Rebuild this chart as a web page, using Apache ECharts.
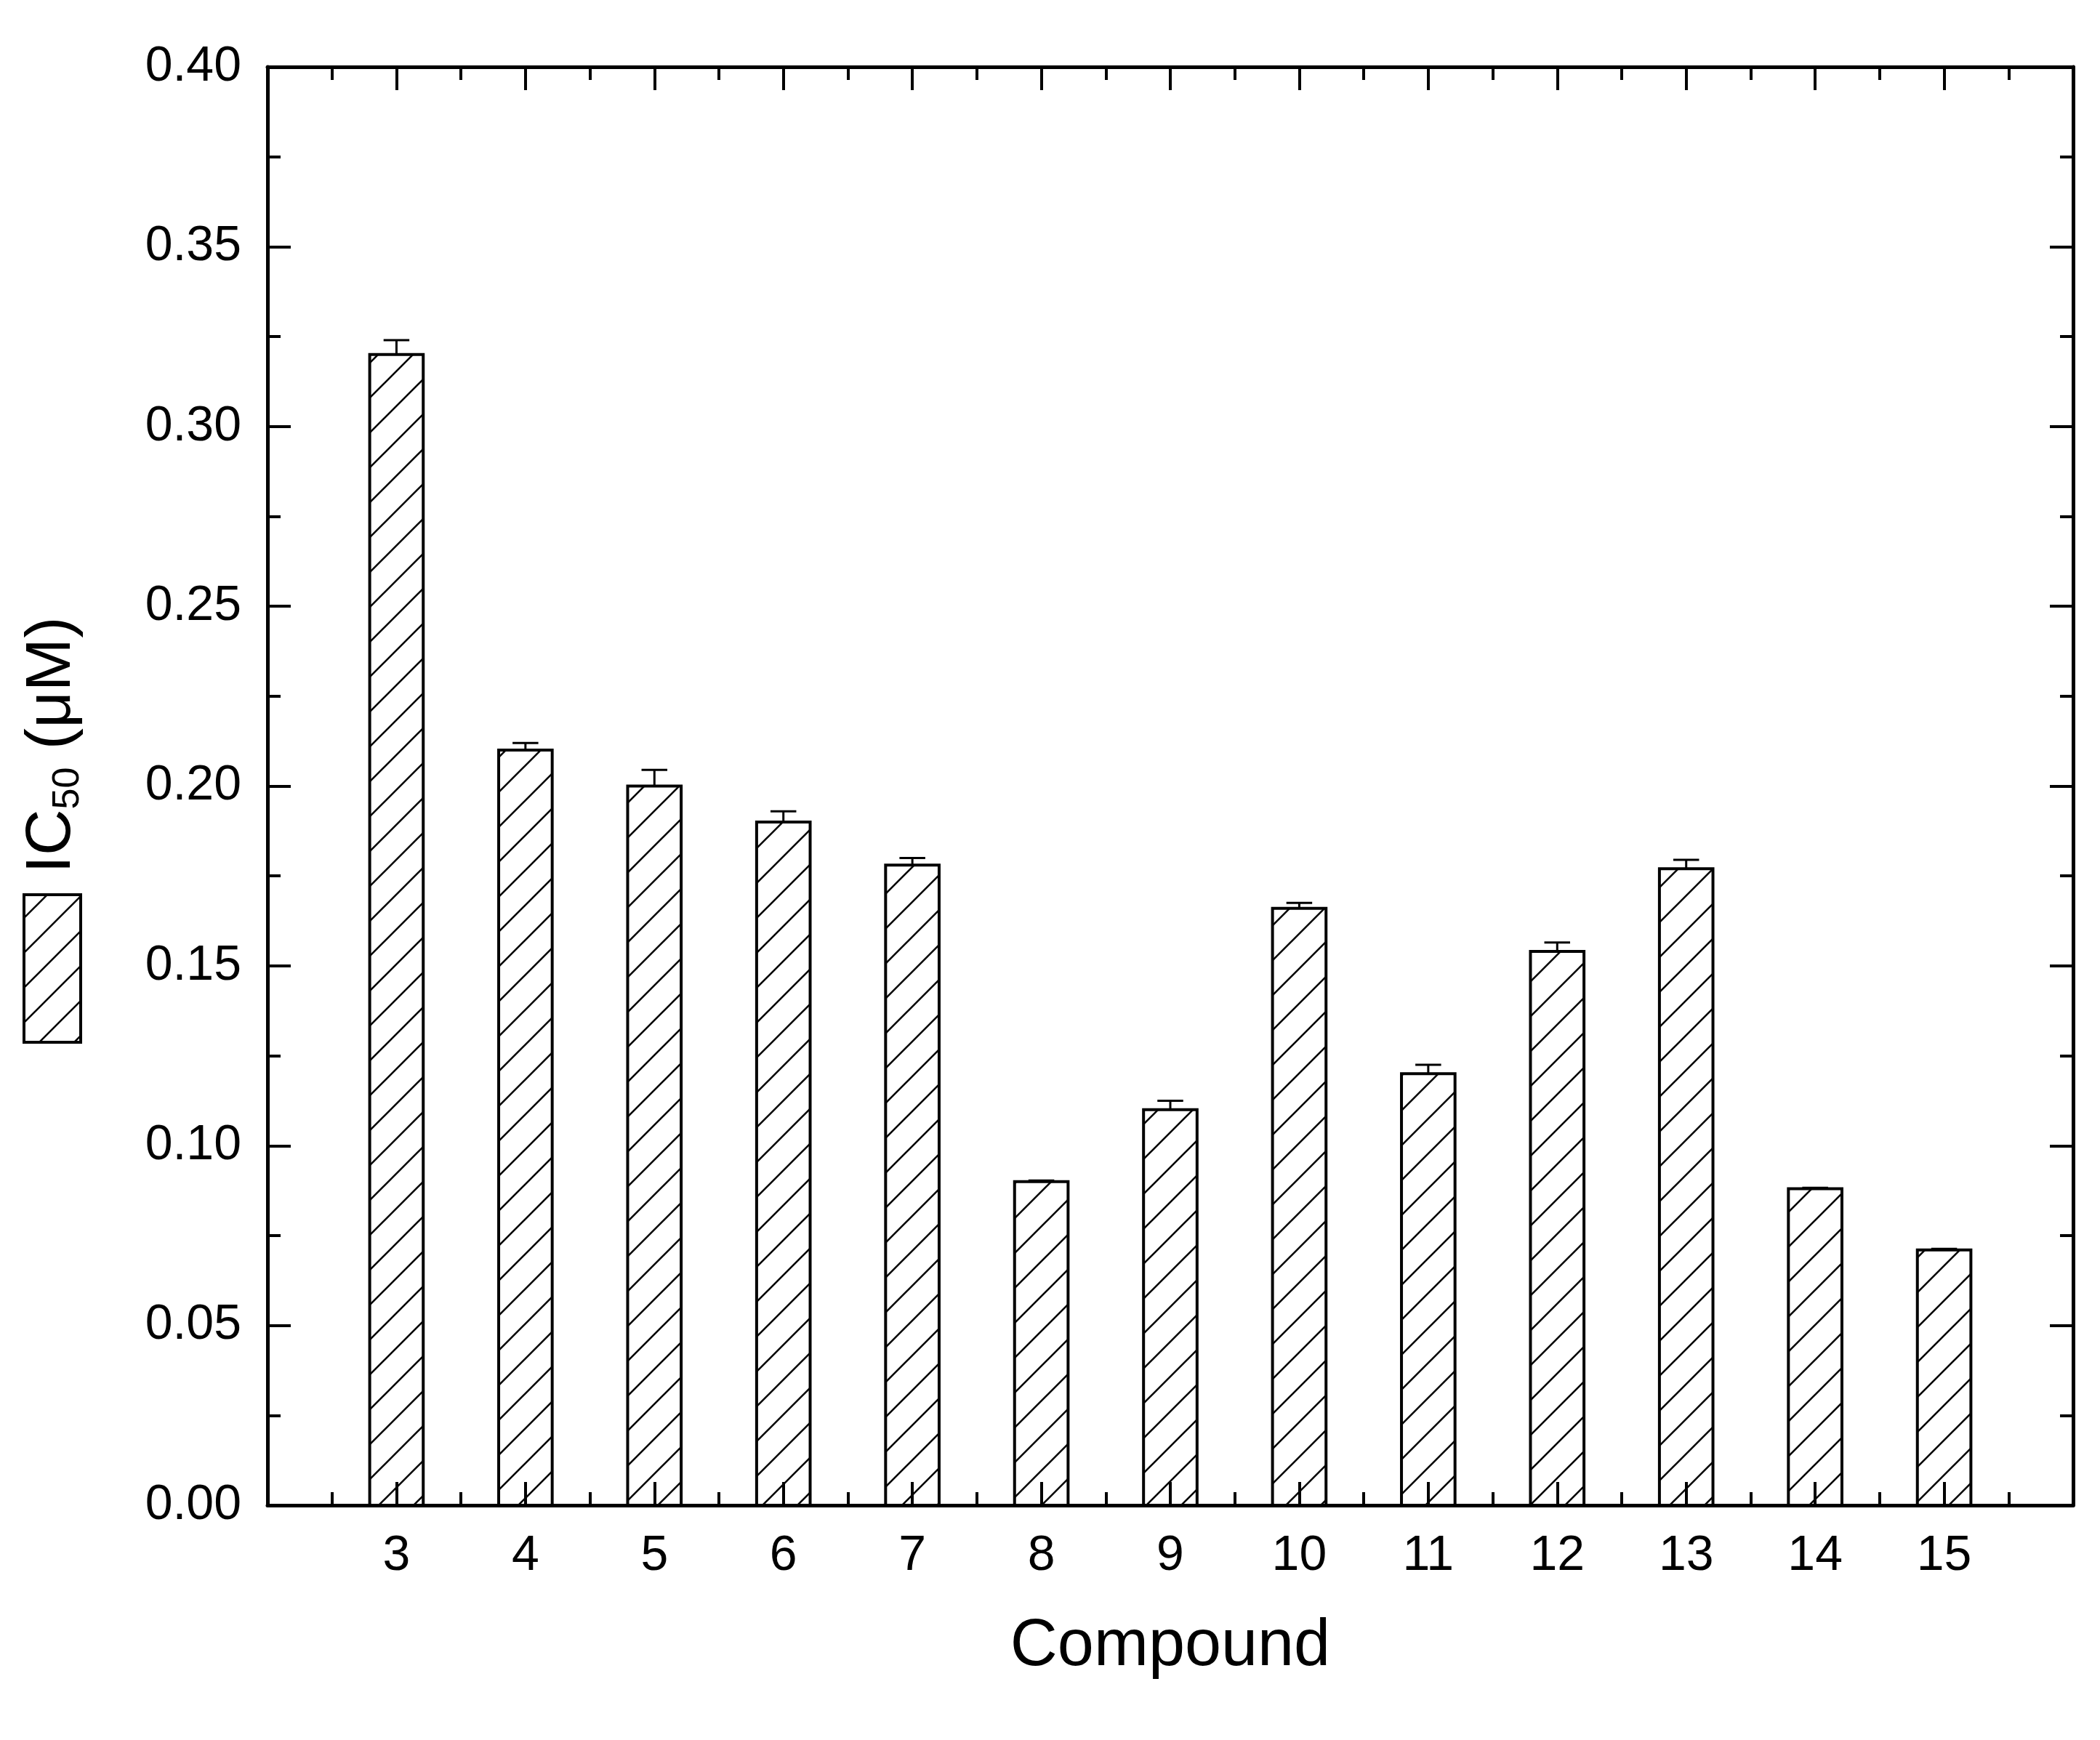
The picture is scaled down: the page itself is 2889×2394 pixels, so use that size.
<!DOCTYPE html>
<html><head><meta charset="utf-8">
<script src="https://cdn.jsdelivr.net/npm/echarts@6/dist/echarts.min.js"></script>
<style>html,body{margin:0;padding:0;background:#fff}#c{width:2889px;height:2394px}</style>
</head><body><div id="c"></div>
<script>
var compounds = [3,4,5,6,7,8,9,10,11,12,13,14,15];
var ic50 = [0.320,0.210,0.200,0.190,0.178,0.090,0.110,0.166,0.120,0.154,0.177,0.088,0.071];
var errs = [0.004,0.002,0.0045,0.003,0.002,0.0003,0.0025,0.0015,0.0025,0.0025,0.0025,0.0003,0.0003];
var yTicks = [0,0.05,0.10,0.15,0.20,0.25,0.30,0.35,0.40];

var pc = document.createElement('canvas'); pc.width = 48; pc.height = 48;
var g = pc.getContext('2d'); g.strokeStyle = '#000'; g.lineWidth = 2.6;
g.beginPath(); g.moveTo(-4,52); g.lineTo(52,-4); g.moveTo(-4,4); g.lineTo(4,-4); g.moveTo(44,52); g.lineTo(52,44); g.stroke();
var hatch = {image: pc, repeat: 'repeat'};

var font = 'Liberation Sans, Arial, sans-serif';
var chart = echarts.init(document.getElementById('c'));
function ax(extra){
  return Object.assign({
    axisLine:{show:true,onZero:false,lineStyle:{color:'#000',width:5}}, splitLine:{show:false},
    axisTick:{show:true,inside:true,length:32,lineStyle:{width:4,color:'#000'}},
    minorTick:{show:true,splitNumber:2,length:18,lineStyle:{width:4,color:'#000'}}
  }, extra);
}
chart.setOption({
  animation:false,
  grid:{left:368,right:37,top:92,bottom:323},
  xAxis:[
    ax({type:'value',min:2,max:16,interval:1,position:'bottom',
      name:'Compound',nameLocation:'middle',nameGap:150,nameTextStyle:{fontFamily:font,fontSize:90,color:'#000'},
      axisLabel:{fontFamily:font,fontSize:68,color:'#000',margin:36,formatter:function(v){return (v<3||v>15)?'':String(v);}}}),
    ax({type:'value',min:2,max:16,interval:1,position:'top',axisLabel:{show:false}})
  ],
  yAxis:[
    ax({type:'value',min:0,max:0.4,interval:0.05,position:'left',
      axisLabel:{fontFamily:font,fontSize:68,color:'#000',margin:36,formatter:function(v){return v.toFixed(2);}}}),
    ax({type:'value',min:0,max:0.4,interval:0.05,position:'right',axisLabel:{show:false}})
  ],
  graphic:[
    {type:'rect',shape:{x:33,y:1231,width:78,height:203},style:{fill:hatch,stroke:'#000',lineWidth:4}},
    {type:'text',x:72,y:1025,rotation:Math.PI/2,style:{text:'IC{s|50} (μM)',font:'88px '+font,fill:'#000',
      align:'center',verticalAlign:'middle',rich:{s:{fontSize:52,fontFamily:font,verticalAlign:'bottom',padding:[44,0,0,0]}}}}
  ],
  series:[{
    type:'custom',xAxisIndex:0,yAxisIndex:0,
    data:compounds.map(function(c,i){return [c,ic50[i],errs[i]];}),
    renderItem:function(params,api){
      var x=api.value(0),y=api.value(1),e=api.value(2);
      var top=api.coord([x,y]),base=api.coord([x,0]),et=api.coord([x,y+e]);
      var w=api.size([0.415,0])[0],cw=api.size([0.2,0])[0];
      return {type:'group',children:[
        {type:'rect',shape:{x:top[0]-w/2,y:top[1],width:w,height:base[1]-top[1]},style:{fill:hatch,stroke:'#000',lineWidth:4}},
        {type:'line',shape:{x1:top[0],y1:top[1],x2:et[0],y2:et[1]},style:{stroke:'#000',lineWidth:3}},
        {type:'line',shape:{x1:et[0]-cw/2,y1:et[1],x2:et[0]+cw/2,y2:et[1]},style:{stroke:'#000',lineWidth:3}}
      ]};
    }
  }]
});
</script></body></html>
